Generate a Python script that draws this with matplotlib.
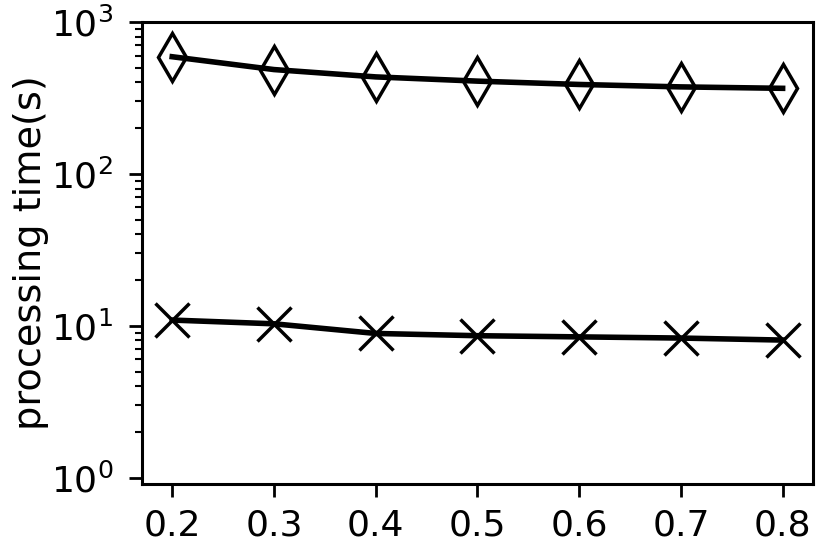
import matplotlib
matplotlib.use('Agg')
import matplotlib.pyplot as plt

ratio = [0.2, 0.3, 0.4, 0.5, 0.6, 0.7, 0.8]
time_diamond = [589, 485, 434, 407, 387, 373, 365]
time_cross = [10.9, 10.3, 8.9, 8.6, 8.45, 8.3, 8.05]

fig = plt.figure(figsize=(8.3, 5.45), dpi=100)
ax = fig.add_axes([0.1707, 0.112, 0.809, 0.848])

ax.plot(ratio, time_diamond, color='black', linewidth=4, marker='d',
        markersize=24, markerfacecolor='none', markeredgewidth=2.5)
ax.plot(ratio, time_cross, color='black', linewidth=4, marker='x',
        markersize=24, markeredgewidth=2.5)

ax.set_yscale('log')
ax.set_ylim(0.91, 1000)
ax.set_xticks(ratio)
ax.set_xticklabels(['0.2', '0.3', '0.4', '0.5', '0.6', '0.7', '0.8'])
ax.set_ylabel('processing time(s)', fontsize=27.5, labelpad=1)

ax.tick_params(axis='both', which='major', labelsize=26, length=9.5, width=2)
ax.tick_params(axis='x', which='major', pad=8.5)
ax.tick_params(axis='y', which='major', pad=11)
ax.tick_params(axis='y', which='minor', length=5, width=1.5)
for sp in ax.spines.values():
    sp.set_linewidth(2.2)

fig.savefig('out.png', dpi=100)
